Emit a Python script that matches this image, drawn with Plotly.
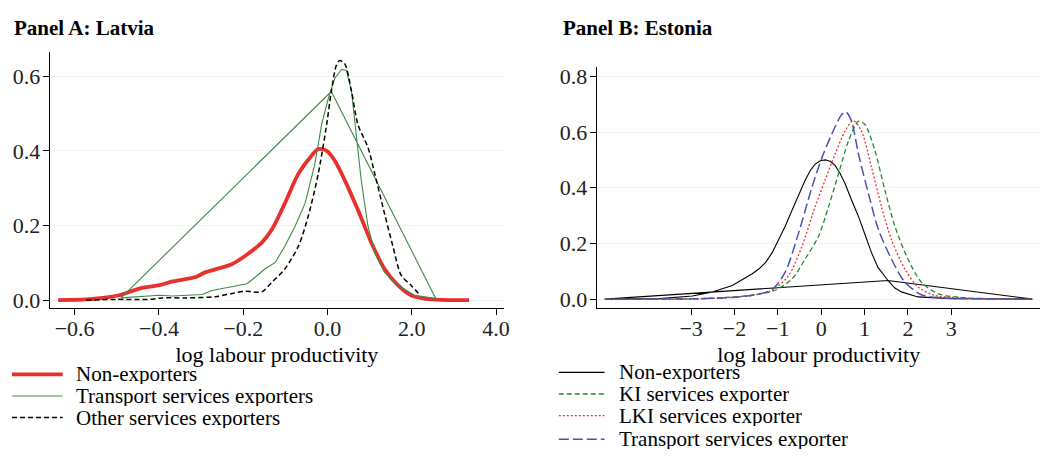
import plotly.graph_objs as go

font_family = 'Liberation Serif'
grid_color = '#eef3f3'

# Panel A: Latvia (x in axis units where ticks sit at -0.6 ... 0.4)
lv_non_x = [-0.639, -0.572, -0.533, -0.494, -0.447, -0.399, -0.368, -0.313, -0.289, -0.258, -0.226,
            -0.195, -0.156, -0.132, -0.101, -0.069, -0.038, -0.022, -0.002, 0.017, 0.041, 0.072,
            0.104, 0.135, 0.167, 0.198, 0.245, 0.336]
lv_non_y = [0.0, 0.002, 0.006, 0.013, 0.031, 0.040, 0.050, 0.062, 0.075, 0.085, 0.097,
            0.119, 0.154, 0.189, 0.260, 0.339, 0.387, 0.405, 0.400, 0.374, 0.321, 0.242,
            0.154, 0.084, 0.040, 0.013, 0.002, 0.0]

lv_transport_x = [-0.490, -0.447, -0.399, -0.368, -0.337, -0.297, -0.274, -0.242, -0.211, -0.191,
                  -0.171, -0.148, -0.124, -0.101, -0.077, -0.053, -0.030, -0.014, 0.002, 0.017,
                  0.033, 0.045, 0.057, 0.068, 0.080, 0.096, 0.112, 0.135, 0.167, 0.206, 0.257,
                  0.009, -0.490]
lv_transport_y = [0.006, 0.010, 0.013, 0.011, 0.013, 0.015, 0.026, 0.033, 0.040, 0.044,
                  0.062, 0.084, 0.101, 0.145, 0.198, 0.260, 0.365, 0.471, 0.541, 0.594,
                  0.618, 0.616, 0.559, 0.444, 0.321, 0.198, 0.128, 0.075, 0.040, 0.013, 0.004,
                  0.559, 0.006]

lv_other_x = [-0.572, -0.502, -0.423, -0.392, -0.337, -0.266, -0.226, -0.195, -0.156, -0.132,
              -0.101, -0.069, -0.046, -0.022, -0.002, 0.009, 0.021, 0.029, 0.041, 0.057,
              0.072, 0.096, 0.112, 0.135, 0.155, 0.175, 0.198, 0.220]
lv_other_y = [0.0, 0.002, 0.002, 0.006, 0.006, 0.009, 0.018, 0.024, 0.022, 0.048,
              0.084, 0.145, 0.224, 0.339, 0.471, 0.559, 0.629, 0.642, 0.633, 0.559,
              0.471, 0.409, 0.339, 0.233, 0.145, 0.066, 0.040, 0.013]

lv_xticks = [-0.6, -0.4, -0.2, 0.0, 0.2, 0.4]
lv_xtick_text = ['\u22120.6', '\u22120.4', '\u22120.2', '0.0', '2.0', '4.0']
lv_yticks = [0.0, 0.2, 0.4, 0.6]

# Panel B: Estonia
ee_non_x = [-4.99, -3.73, -2.97, -2.51, -2.05, -1.59, -1.44, -1.28, -1.13, -0.98, -0.83, -0.67,
            -0.52, -0.37, -0.25, -0.14, -0.02, 0.09, 0.21, 0.32, 0.44, 0.55, 0.70, 0.86, 1.01,
            1.16, 1.31, 1.54, 1.70, 1.85, 2.23, 2.99, 4.87, 1.54, -4.99]
ee_non_y = [0.0, 0.002, 0.011, 0.026, 0.049, 0.091, 0.108, 0.132, 0.167, 0.214, 0.262, 0.320,
            0.374, 0.427, 0.462, 0.485, 0.497, 0.500, 0.495, 0.480, 0.450, 0.415, 0.356, 0.297, 0.232,
            0.167, 0.114, 0.067, 0.040, 0.026, 0.008, 0.002, 0.0, 0.067, 0.0]

ee_ki_x = [-4.99, -2.97, -2.20, -1.59, -1.06, -0.67, -0.37, -0.06, 0.17, 0.40, 0.63, 0.86,
           1.01, 1.24, 1.47, 1.70, 2.00, 2.31, 2.69, 3.30, 4.87]
ee_ki_y = [0.0, 0.001, 0.006, 0.014, 0.032, 0.073, 0.144, 0.226, 0.332, 0.450, 0.568, 0.639,
           0.627, 0.533, 0.391, 0.262, 0.144, 0.061, 0.020, 0.005, 0.0]

ee_lki_x = [-4.99, -2.97, -2.20, -1.59, -1.13, -0.75, -0.44, -0.14, 0.09, 0.32, 0.55, 0.74,
            0.93, 1.16, 1.39, 1.62, 1.93, 2.23, 2.61, 3.15, 4.87]
ee_lki_y = [0.0, 0.001, 0.005, 0.014, 0.032, 0.085, 0.191, 0.332, 0.427, 0.521, 0.603, 0.641,
            0.603, 0.474, 0.332, 0.214, 0.108, 0.044, 0.014, 0.005, 0.0]

ee_transport_x = [-4.99, -2.97, -2.20, -1.59, -1.13, -0.83, -0.52, -0.21, 0.02, 0.24, 0.47, 0.57,
                  0.70, 0.86, 1.09, 1.32, 1.62, 1.93, 2.31, 2.77, 3.91, 4.68]
ee_transport_y = [0.0, 0.001, 0.005, 0.014, 0.035, 0.097, 0.238, 0.403, 0.509, 0.591, 0.662, 0.672,
                  0.639, 0.521, 0.379, 0.250, 0.144, 0.061, 0.016, 0.005, 0.001, 0.0]

ee_xticks = [-3, -2, -1, 0, 1, 2, 3]
ee_xtick_text = ['\u22123', '\u22122', '\u22121', '0', '1', '2', '3']
ee_yticks = [0.0, 0.2, 0.4, 0.6, 0.8]

# series styles: name, colour, width, dash, shape, x, y
lv_series = [
    ('Non-exporters', '#e8302c', 3.8, 'solid', 'spline', lv_non_x, lv_non_y),
    ('Transport services exporters', '#3f8a45', 1.1, 'solid', 'linear', lv_transport_x, lv_transport_y),
    ('Other services exporters', '#000000', 1.5, '5px,3px', 'spline', lv_other_x, lv_other_y),
]
ee_series = [
    ('Non-exporters', '#000000', 1.1, 'solid', 'linear', ee_non_x, ee_non_y),
    ('KI services exporter', '#228b2f', 1.3, '5px,3px', 'spline', ee_ki_x, ee_ki_y),
    ('LKI services exporter', '#ee3030', 1.3, '2px,2px', 'spline', ee_lki_x, ee_lki_y),
    ('Transport services exporter', '#5050b0', 1.5, '10px,4px', 'spline', ee_transport_x, ee_transport_y),
]

# page body adds an 8px margin, so the figure is a bit smaller and shifted
OFF = 8
W, H = 1040, 453


def px_x(v):
    return (v - OFF) / W


def px_y(v):
    return 1 - (v - OFF) / H


fig = go.Figure()

for name, color, width, dash, shape, xs, ys in lv_series:
    fig.add_trace(go.Scatter(x=xs, y=ys, mode='lines', name=name,
                             line=dict(color=color, width=width, dash=dash, shape=shape, smoothing=0.8),
                             xaxis='x', yaxis='y', showlegend=False))

for name, color, width, dash, shape, xs, ys in ee_series:
    fig.add_trace(go.Scatter(x=xs, y=ys, mode='lines', name=name,
                             line=dict(color=color, width=width, dash=dash, shape=shape, smoothing=0.8),
                             xaxis='x2', yaxis='y2', showlegend=False))

axis_common = dict(showline=True, linecolor='black', linewidth=1, ticks='outside',
                   ticklen=6, tickcolor='black', tickfont=dict(size=22, color='#222'),
                   zeroline=False)
x_title = dict(text='log labour productivity', font=dict(size=22), standoff=6)

fig.update_layout(
    width=W, height=H,
    margin=dict(l=0, r=0, t=0, b=0),
    paper_bgcolor='white', plot_bgcolor='white',
    font=dict(family=font_family, color='black'),
    xaxis=dict(domain=[px_x(50), px_x(507)], range=[-0.659, 0.419], anchor='y',
               tickmode='array', tickvals=lv_xticks, ticktext=lv_xtick_text, showgrid=False,
               ticklabelstandoff=-6, title=x_title, **axis_common),
    yaxis=dict(domain=[px_y(310), px_y(50)], range=[-0.022, 0.664], anchor='x',
               tickmode='array', tickvals=lv_yticks, tickformat='.1f', ticklabelstandoff=-2,
               showgrid=True, gridcolor=grid_color, gridwidth=1, **axis_common),
    xaxis2=dict(domain=[px_x(600), px_x(1047)], range=[-5.18, 5.07], anchor='y2',
                tickmode='array', tickvals=ee_xticks, ticktext=ee_xtick_text, showgrid=False,
                ticklabelstandoff=-6, title=x_title, **axis_common),
    yaxis2=dict(domain=[px_y(310), px_y(65)], range=[-0.033, 0.833], anchor='x2',
                tickmode='array', tickvals=ee_yticks, tickformat='.1f', ticklabelstandoff=-2,
                showgrid=True, gridcolor=grid_color, gridwidth=1, **axis_common),
)

# panel titles
fig.add_annotation(text='<b>Panel A: Latvia</b>', x=px_x(12), y=px_y(25), xref='paper', yref='paper',
                   xanchor='left', yanchor='middle', showarrow=False, font=dict(size=21))
fig.add_annotation(text='<b>Panel B: Estonia</b>', x=px_x(564), y=px_y(25), xref='paper', yref='paper',
                   xanchor='left', yanchor='middle', showarrow=False, font=dict(size=21))


# hand-drawn legends (tight line spacing like the original)
def add_legend(series, x0, x1, text_x, y_list):
    for (name, color, width, dash, _, _, _), yy in zip(series, y_list):
        fig.add_shape(type='line', xref='paper', yref='paper',
                      x0=px_x(x0), x1=px_x(x1), y0=px_y(yy), y1=px_y(yy),
                      line=dict(color=color, width=width, dash=dash))
        fig.add_annotation(text=name, x=px_x(text_x), y=px_y(yy), xref='paper', yref='paper',
                           xanchor='left', yanchor='middle', showarrow=False, height=20,
                           font=dict(size=21, color='black'))


add_legend(lv_series, 12, 63, 74, [377, 399, 421])
add_legend(ee_series, 562, 608, 621, [375, 397, 419, 443])

fig.write_html("out.html")
